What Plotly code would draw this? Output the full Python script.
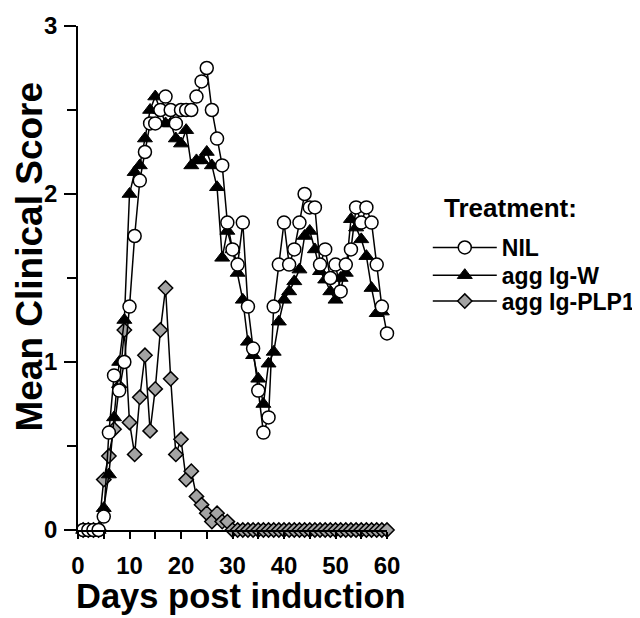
import plotly.graph_objects as go

days = list(range(1, 61))

nil = [0, 0, 0, 0, 0.08, 0.58, 0.92, 0.83, 1.0, 1.33,
       1.75, 2.08, 2.25, 2.42, 2.42, 2.5, 2.58, 2.5, 2.42, 2.5,
       2.5, 2.5, 2.58, 2.67, 2.75, 2.5, 2.33, 2.17, 1.83, 1.67,
       1.58, 1.83, 1.33, 1.08, 0.83, 0.58, 0.67, 1.33, 1.58, 1.83,
       1.58, 1.67, 1.83, 2.0, 1.92, 1.92, 1.58, 1.67, 1.5, 1.58,
       1.42, 1.58, 1.67, 1.92, 1.83, 1.92, 1.83, 1.58, 1.33, 1.17]

igw_days = list(range(1, 60))
igw = [0, 0, 0, 0, 0.13, 0.33, 0.67, 1.0, 1.25, 2.0,
       2.13, 2.17, 2.33, 2.5, 2.58, 2.5, 2.42, 2.42, 2.33, 2.3,
       2.38, 2.17, 2.2, 2.2, 2.25, 2.17, 2.04, 1.62, 1.78, 1.67,
       1.53, 1.37, 1.12, 1.04, 0.9, 0.75, 0.99, 1.06, 1.24, 1.37,
       1.42, 1.48, 1.55, 1.75, 1.78, 1.67, 1.54, 1.49, 1.42, 1.37,
       1.5, 1.53, 1.85, 1.8, 1.73, 1.63, 1.44, 1.29, 1.3]

plp1 = [0, 0, 0, 0, 0.30, 0.44, 0.60, 0.85, 1.19, 0.64,
        0.45, 0.79, 1.04, 0.59, 0.84, 1.19, 1.44, 0.90, 0.45, 0.54,
        0.30, 0.35, 0.20, 0.15, 0.10, 0.05, 0.10, 0.05, 0.05, 0,
        0, 0, 0, 0, 0, 0, 0, 0, 0, 0,
        0, 0, 0, 0, 0, 0, 0, 0, 0, 0,
        0, 0, 0, 0, 0, 0, 0, 0, 0, 0]

x_ticks = [0, 10, 20, 30, 40, 50, 60]
y_ticks = [0, 1, 2, 3]

FONT = "Liberation Sans, Arial, sans-serif"
line = dict(color="black", width=1.5)

fig = go.Figure()
fig.add_trace(go.Scatter(
    x=days, y=plp1, name="agg Ig-PLP1", mode="lines+markers",
    line=line, cliponaxis=False, legend="legend3", showlegend=True,
    marker=dict(symbol="diamond", size=11, color="#a3a3a3",
                line=dict(color="black", width=1.5))))
fig.add_trace(go.Scatter(
    x=igw_days, y=igw, name="agg Ig-W", mode="lines+markers",
    line=line, cliponaxis=False, legend="legend2", showlegend=True,
    marker=dict(symbol="triangle-up", size=13, color="black",
                line=dict(color="black", width=1))))
fig.add_trace(go.Scatter(
    x=days, y=nil, name="NIL", mode="lines+markers",
    line=line, cliponaxis=False, legend="legend", showlegend=True,
    marker=dict(symbol="circle", size=13, color="white",
                line=dict(color="black", width=1.5))))

def leg(y):
    return dict(font=dict(size=23, weight="bold"),
                x=1.132, xanchor="left", y=y, yanchor="middle",
                itemwidth=64, bgcolor="rgba(0,0,0,0)", visible=True)

fig.update_layout(
    width=640, height=618,
    margin=dict(l=70, r=261, t=4, b=96),
    paper_bgcolor="white", plot_bgcolor="white",
    font=dict(family=FONT, color="black"),
    showlegend=True,
    legend=leg(0.5605), legend2=leg(0.5055), legend3=leg(0.4542),
    xaxis=dict(
        range=[0, 60], tickvals=x_ticks, ticktext=[str(v) for v in x_ticks],
        showline=True, linecolor="black", linewidth=1.5,
        ticks="outside", ticklen=7, tickwidth=1.5, tickcolor="black",
        minor=dict(dtick=5, tick0=0, ticks="outside", ticklen=7, tickwidth=1.5, tickcolor="black"),
        showgrid=False, zeroline=False, ticklabeloverflow="allow",
        tickfont=dict(size=24, weight="bold"), ticklabelstandoff=6,
    ),
    yaxis=dict(
        range=[0, 3], tickvals=y_ticks, ticktext=[str(v) for v in y_ticks],
        showline=True, linecolor="black", linewidth=1.5,
        ticks="outside", ticklen=12, tickwidth=1.5, tickcolor="black",
        minor=dict(dtick=0.5, tick0=0, ticks="outside", ticklen=9, tickwidth=1.5, tickcolor="black"),
        showgrid=False, zeroline=False, ticklabeloverflow="allow",
        tickfont=dict(size=24, weight="bold"), ticklabelstandoff=2,
    ),
    annotations=[
        dict(text="Days post induction", xref="paper", yref="paper",
             x=0.5, y=0, xshift=8.5, yshift=-66, xanchor="center", yanchor="middle",
             showarrow=False, font=dict(size=34.5, weight="bold")),
        dict(text="Mean Clinical Score", xref="paper", yref="paper",
             x=0, y=0.5426, xshift=-48, xanchor="center", yanchor="middle",
             textangle=-90, showarrow=False, font=dict(size=37, weight="bold")),
        dict(text="Treatment:", xref="paper", yref="paper",
             x=1.177, y=0.639, xanchor="left", yanchor="middle",
             showarrow=False, font=dict(size=26, weight="bold")),
    ],
)

fig.write_html("out.html")
